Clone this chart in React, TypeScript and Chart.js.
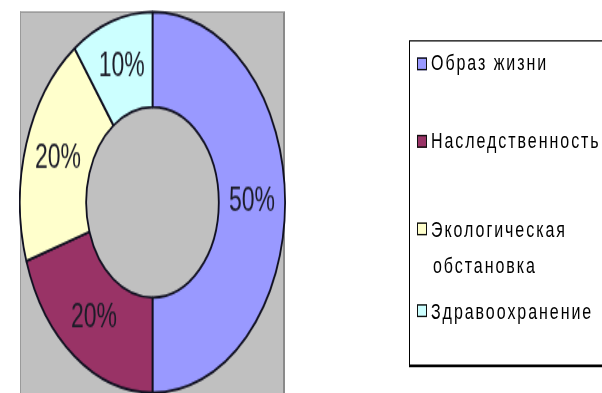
import React, { useEffect, useRef } from "react";
import { Chart, registerables } from "chart.js";

Chart.register(...registerables);

// Health factors and their shares, in percent
const categories = ["Образ жизни", "Наследственность", "Экологическая обстановка", "Здравоохранение"];
const legendLines = [["Образ жизни"], ["Наследственность"], ["Экологическая", "обстановка"], ["Здравоохранение"]];
const shares = [50, 20, 20, 10];
const sliceColors = ["#9999FF", "#993366", "#FFFFCC", "#CCFFFF"];

const FONT = "'Liberation Sans', Arial, sans-serif";
// the whole figure is drawn squeezed and stretched back vertically
const SY = 1.435;

const percentLabels = {
  id: "percentLabels",
  afterDatasetsDraw(chart: any) {
    const ctx = chart.ctx;
    const meta = chart.getDatasetMeta(0);
    const values = chart.data.datasets[0].data as number[];
    ctx.save();
    ctx.font = `23px ${FONT}`;
    ctx.fillStyle = "#1c1c28";
    ctx.textAlign = "center";
    ctx.textBaseline = "middle";
    meta.data.forEach((arc: any, i: number) => {
      const p = arc.getCenterPoint();
      ctx.fillText(`${values[i]}%`, p.x, p.y);
    });
    ctx.restore();
  },
};

function Doughnut() {
  const ref = useRef<HTMLCanvasElement | null>(null);
  useEffect(() => {
    if (!ref.current) return;
    const chart = new Chart(ref.current, {
      type: "doughnut",
      data: {
        labels: categories,
        datasets: [
          {
            data: shares,
            backgroundColor: sliceColors,
            borderColor: "#101020",
            borderWidth: 1.8,
            borderAlign: "center",
          },
        ],
      },
      options: {
        responsive: false,
        animation: false,
        cutout: "50%",
        layout: { padding: 0 },
        plugins: {
          legend: { display: false },
          tooltip: { enabled: false },
        },
      },
      plugins: [percentLabels],
    });
    return () => chart.destroy();
  }, []);
  return (
    <canvas
      ref={ref}
      width={267}
      height={268}
      style={{ position: "absolute", left: 19, top: 12 / SY - 1, width: 267, height: 268 }}
    />
  );
}

// row centres of the legend entries (unscaled coordinates)
const rowCentres = [44.3, 98.4, 159.6, 216.7];
const lineGap = 25.2;

export default function App() {
  return (
    <div
      style={{
        position: "fixed",
        left: 0,
        top: 0,
        width: 602,
        height: 393,
        overflow: "hidden",
        background: "#fff",
      }}
    >
      <div
        style={{
          position: "absolute",
          left: 0,
          top: 0,
          width: 602,
          height: 393 / SY,
          transform: `scaleY(${SY})`,
          transformOrigin: "0 0",
        }}
      >
        <div
          style={{
            position: "absolute",
            left: 20,
            top: 12 / SY,
            width: 265,
            height: 300,
            background: "#C0C0C0",
            borderLeft: "1px solid #9a9a9a",
            borderTop: "1px solid #9a9a9a",
            borderRight: "2px solid #8a8a8a",
            boxSizing: "border-box",
          }}
        />
        <Doughnut />
        <div
          style={{
            position: "absolute",
            left: 409,
            top: 40 / SY,
            width: 260,
            height: (368 - 40) / SY,
            border: "1.5px solid #000",
            borderBottomWidth: 2,
            boxSizing: "border-box",
            background: "#fff",
          }}
        />
        {legendLines.map((lines, i) => (
          <React.Fragment key={i}>
            <div
              style={{
                position: "absolute",
                left: 417,
                top: rowCentres[i] - 4.6,
                width: 10,
                height: 9.2,
                boxSizing: "border-box",
                border: "1px solid #111",
                background: sliceColors[i],
              }}
            />
            {lines.map((t, j) => (
              <div
                key={j}
                style={{
                  position: "absolute",
                  left: j === 0 ? 431 : 433,
                  top: rowCentres[i] + j * lineGap - 10,
                  height: 20,
                  lineHeight: "20px",
                  fontFamily: FONT,
                  fontSize: 16,
                  letterSpacing: 1.95,
                  color: "#000",
                  whiteSpace: "nowrap",
                }}
              >
                {t}
              </div>
            ))}
          </React.Fragment>
        ))}
      </div>
    </div>
  );
}
